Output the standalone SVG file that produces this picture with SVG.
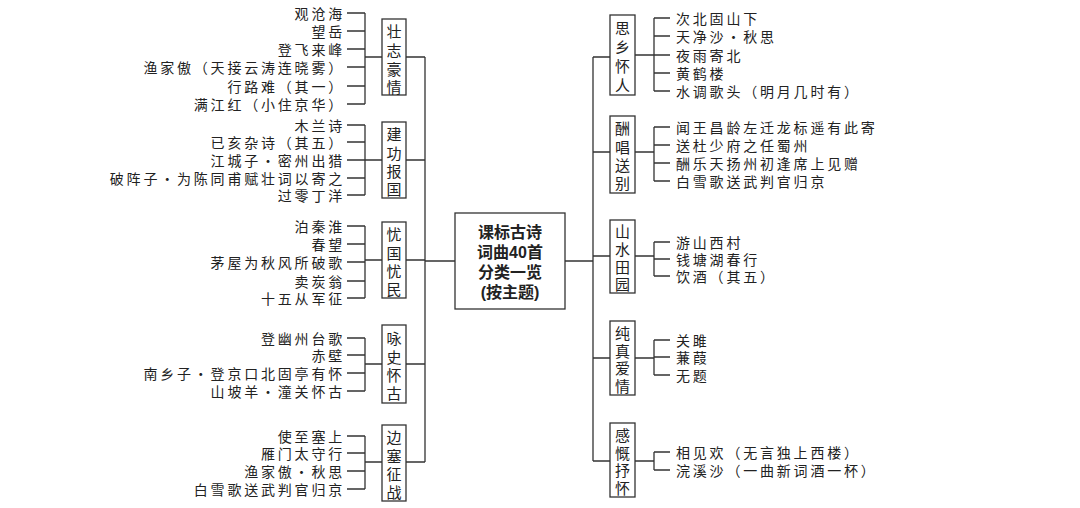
<svg xmlns="http://www.w3.org/2000/svg" width="1080" height="508" viewBox="0 0 1080 508">
<style>
.p{font-family:"Noto Sans CJK SC","Liberation Sans",sans-serif;font-size:14px;letter-spacing:2.8px;fill:#222;dominant-baseline:central}
.l{text-anchor:end}
.c{font-family:"Noto Sans CJK SC",sans-serif;font-size:15px;fill:#222;text-anchor:middle;dominant-baseline:central}
.b{fill:#fff;stroke:#333;stroke-width:1.3}
.w{fill:none;stroke:#333;stroke-width:1.3}
.t{font-family:"Liberation Sans","Noto Sans CJK SC",sans-serif;font-weight:bold;font-size:16px;fill:#222;text-anchor:middle;dominant-baseline:central}
</style>
<rect width="1080" height="508" fill="#fff"/>
<g id="connectors" class="w">
<path d="M425 57V462M406 57H425M406 160H425M406 260H425M406 364H425M406 462H425M425 261H455"/>
<path d="M593 57V461M593 57H610M593 152H610M593 256H610M593 358H610M593 461H610M565 261H593"/>
<path d="M365 13V104M347 13H365M347 31H365M347 49H365M347 67H365M347 86H365M347 104H365M365 57H382"/>
<path d="M365 125V195M347 125H365M347 142H365M347 160H365M347 178H365M347 195H365M365 160H382"/>
<path d="M365 226V298M347 226H365M347 244H365M347 262H365M347 281H365M347 298H365M365 260H382"/>
<path d="M365 338V391M347 338H365M347 355H365M347 373H365M347 391H365M365 364H382"/>
<path d="M365 436V489M347 436H365M347 453H365M347 471H365M347 489H365M365 462H382"/>
<path d="M654 18V91M654 18H670M654 36H670M654 55H670M654 73H670M654 91H670M635 55H654"/>
<path d="M654 127V181M654 127H670M654 145H670M654 163H670M654 181H670M635 152H654"/>
<path d="M654 242V276M654 242H670M654 259H670M654 276H670M635 256H654"/>
<path d="M654 340V375M654 340H670M654 357H670M654 375H670M635 358H654"/>
<path d="M654 452V470M654 452H670M654 470H670M635 461H654"/>
</g>
<g id="center"><rect class="b" x="455" y="213" width="110" height="96"/>
<text class="t" x="510" y="232">课标古诗</text><text class="t" x="510" y="252">词曲40首</text><text class="t" x="510" y="272">分类一览</text><text class="t" x="510" y="292">(按主题)</text></g>
<g id="cat-zz"><rect class="b" x="382" y="19" width="24" height="76"/><text class="c" x="394" y="30">壮</text><text class="c" x="394" y="49">志</text><text class="c" x="394" y="68">豪</text><text class="c" x="394" y="86">情</text></g>
<g id="cat-jg"><rect class="b" x="382" y="122" width="24" height="76"/><text class="c" x="394" y="133">建</text><text class="c" x="394" y="152">功</text><text class="c" x="394" y="170">报</text><text class="c" x="394" y="188">国</text></g>
<g id="cat-yg"><rect class="b" x="382" y="222" width="24" height="76"/><text class="c" x="394" y="233">忧</text><text class="c" x="394" y="252">国</text><text class="c" x="394" y="270">忧</text><text class="c" x="394" y="288">民</text></g>
<g id="cat-ys"><rect class="b" x="382" y="325" width="24" height="78"/><text class="c" x="394" y="337">咏</text><text class="c" x="394" y="356">史</text><text class="c" x="394" y="374">怀</text><text class="c" x="394" y="392">古</text></g>
<g id="cat-bs"><rect class="b" x="382" y="425" width="24" height="76"/><text class="c" x="394" y="436">边</text><text class="c" x="394" y="455">塞</text><text class="c" x="394" y="473">征</text><text class="c" x="394" y="491">战</text></g>
<g id="cat-sx"><rect class="b" x="610" y="15" width="25" height="80"/><text class="c" x="622.5" y="27">思</text><text class="c" x="622.5" y="46">乡</text><text class="c" x="622.5" y="65">怀</text><text class="c" x="622.5" y="84">人</text></g>
<g id="cat-cc"><rect class="b" x="610" y="116" width="25" height="77"/><text class="c" x="622.5" y="127">酬</text><text class="c" x="622.5" y="146">唱</text><text class="c" x="622.5" y="164">送</text><text class="c" x="622.5" y="182">别</text></g>
<g id="cat-ss"><rect class="b" x="610" y="220" width="25" height="73"/><text class="c" x="622.5" y="230">山</text><text class="c" x="622.5" y="248">水</text><text class="c" x="622.5" y="266">田</text><text class="c" x="622.5" y="283">园</text></g>
<g id="cat-cz"><rect class="b" x="610" y="321" width="25" height="74"/><text class="c" x="622.5" y="332">纯</text><text class="c" x="622.5" y="350">真</text><text class="c" x="622.5" y="367">爱</text><text class="c" x="622.5" y="385">情</text></g>
<g id="cat-gk"><rect class="b" x="610" y="423" width="25" height="74"/><text class="c" x="622.5" y="434">感</text><text class="c" x="622.5" y="452">慨</text><text class="c" x="622.5" y="469">抒</text><text class="c" x="622.5" y="487">怀</text></g>
<g id="poems-left" class="p l">
<text x="345" y="13">观沧海</text><text x="345" y="31">望岳</text><text x="345" y="49">登飞来峰</text><text x="345" y="67">渔家傲（天接云涛连晓雾）</text><text x="345" y="86">行路难（其一）</text><text x="345" y="104">满江红（小住京华）</text>
<text x="345" y="125">木兰诗</text><text x="345" y="142">已亥杂诗（其五）</text><text x="345" y="160">江城子·密州出猎</text><text x="345" y="178">破阵子·为陈同甫赋壮词以寄之</text><text x="345" y="195">过零丁洋</text>
<text x="345" y="226">泊秦淮</text><text x="345" y="244">春望</text><text x="345" y="262">茅屋为秋风所破歌</text><text x="345" y="281">卖炭翁</text><text x="345" y="298">十五从军征</text>
<text x="345" y="338">登幽州台歌</text><text x="345" y="355">赤壁</text><text x="345" y="373">南乡子·登京口北固亭有怀</text><text x="345" y="391">山坡羊·潼关怀古</text>
<text x="345" y="436">使至塞上</text><text x="345" y="453">雁门太守行</text><text x="345" y="471">渔家傲·秋思</text><text x="345" y="489">白雪歌送武判官归京</text>
</g>
<g id="poems-right" class="p">
<text x="676" y="18">次北固山下</text><text x="676" y="36">天净沙·秋思</text><text x="676" y="55">夜雨寄北</text><text x="676" y="73">黄鹤楼</text><text x="676" y="91">水调歌头（明月几时有）</text>
<text x="676" y="127">闻王昌龄左迁龙标遥有此寄</text><text x="676" y="145">送杜少府之任蜀州</text><text x="676" y="163">酬乐天扬州初逢席上见赠</text><text x="676" y="181">白雪歌送武判官归京</text>
<text x="676" y="242">游山西村</text><text x="676" y="259">钱塘湖春行</text><text x="676" y="276">饮酒（其五）</text>
<text x="676" y="340">关雎</text><text x="676" y="357">蒹葭</text><text x="676" y="375">无题</text>
<text x="676" y="452">相见欢（无言独上西楼）</text><text x="676" y="470">浣溪沙（一曲新词酒一杯）</text>
</g>
</svg>
